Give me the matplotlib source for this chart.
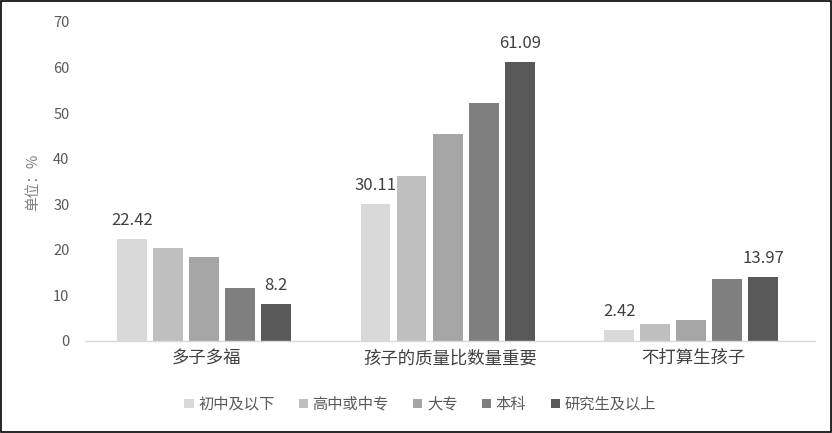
import matplotlib
matplotlib.use("Agg")
import matplotlib.pyplot as plt
import numpy as np
from matplotlib.patches import Rectangle

plt.rcParams['font.family'] = ['Noto Sans CJK SC', 'DejaVu Sans']

categories = ["多子多福", "孩子的质量比数量重要", "不打算生孩子"]
series_names = ["初中及以下", "高中或中专", "大专", "本科", "研究生及以上"]
values = [
    [22.42, 30.11, 2.42],
    [20.4, 36.3, 3.7],
    [18.4, 45.5, 4.6],
    [11.6, 52.1, 13.5],
    [8.2, 61.09, 13.97],
]
labeled = {0: [0, 1, 2], 4: [0, 1, 2]}
colors = ["#D9D9D9", "#BFBFBF", "#A5A5A5", "#7F7F7F", "#595959"]

fig = plt.figure(figsize=(8.32, 4.33), dpi=100)
ax = fig.add_axes([0.102, 0.2125, 0.878, 0.737])

x = np.arange(len(categories))
step = 0.148
width = 0.122
for i, (name, vals) in enumerate(zip(series_names, values)):
    pos = x + (i - 2) * step - 0.01
    ax.bar(pos, vals, width=width, color=colors[i], label=name, zorder=2)
    if i in labeled:
        for j in labeled[i]:
            ax.text(pos[j], vals[j] + 2.2, f"{vals[j]:g}", ha='center', va='bottom',
                    fontsize=12, color='#404040')

ax.set_xlim(-0.5, 2.5)
ax.set_ylim(0, 70)
ax.set_yticks(range(0, 71, 10))
ax.set_xticks(x)
ax.set_xticklabels(categories, fontsize=12.5, color='#404040')
ax.tick_params(axis='y', labelsize=10.5, labelcolor='#595959', length=0, pad=11)
ax.tick_params(axis='x', length=0, pad=6)
for s in ['top', 'right', 'left']:
    ax.spines[s].set_visible(False)
ax.spines['bottom'].set_color('#D9D9D9')
ax.spines['bottom'].set_linewidth(1.0)

fig.text(0.04, 0.58, "单位：%", rotation=90, ha='center', va='center',
         fontsize=10.5, color='#7F7F7F')

leg = fig.legend(loc='center', bbox_to_anchor=(0.505, 0.066), ncol=5, frameon=False,
                 fontsize=11, handlelength=0.6, handleheight=0.6, handletextpad=0.3,
                 columnspacing=1.6)
for t in leg.get_texts():
    t.set_color('#595959')

fig.patches.append(Rectangle((0.0015, 0.002), 0.997, 0.995, transform=fig.transFigure,
                             fill=False, edgecolor='black', linewidth=1.2))

fig.savefig("out.png", dpi=100)
